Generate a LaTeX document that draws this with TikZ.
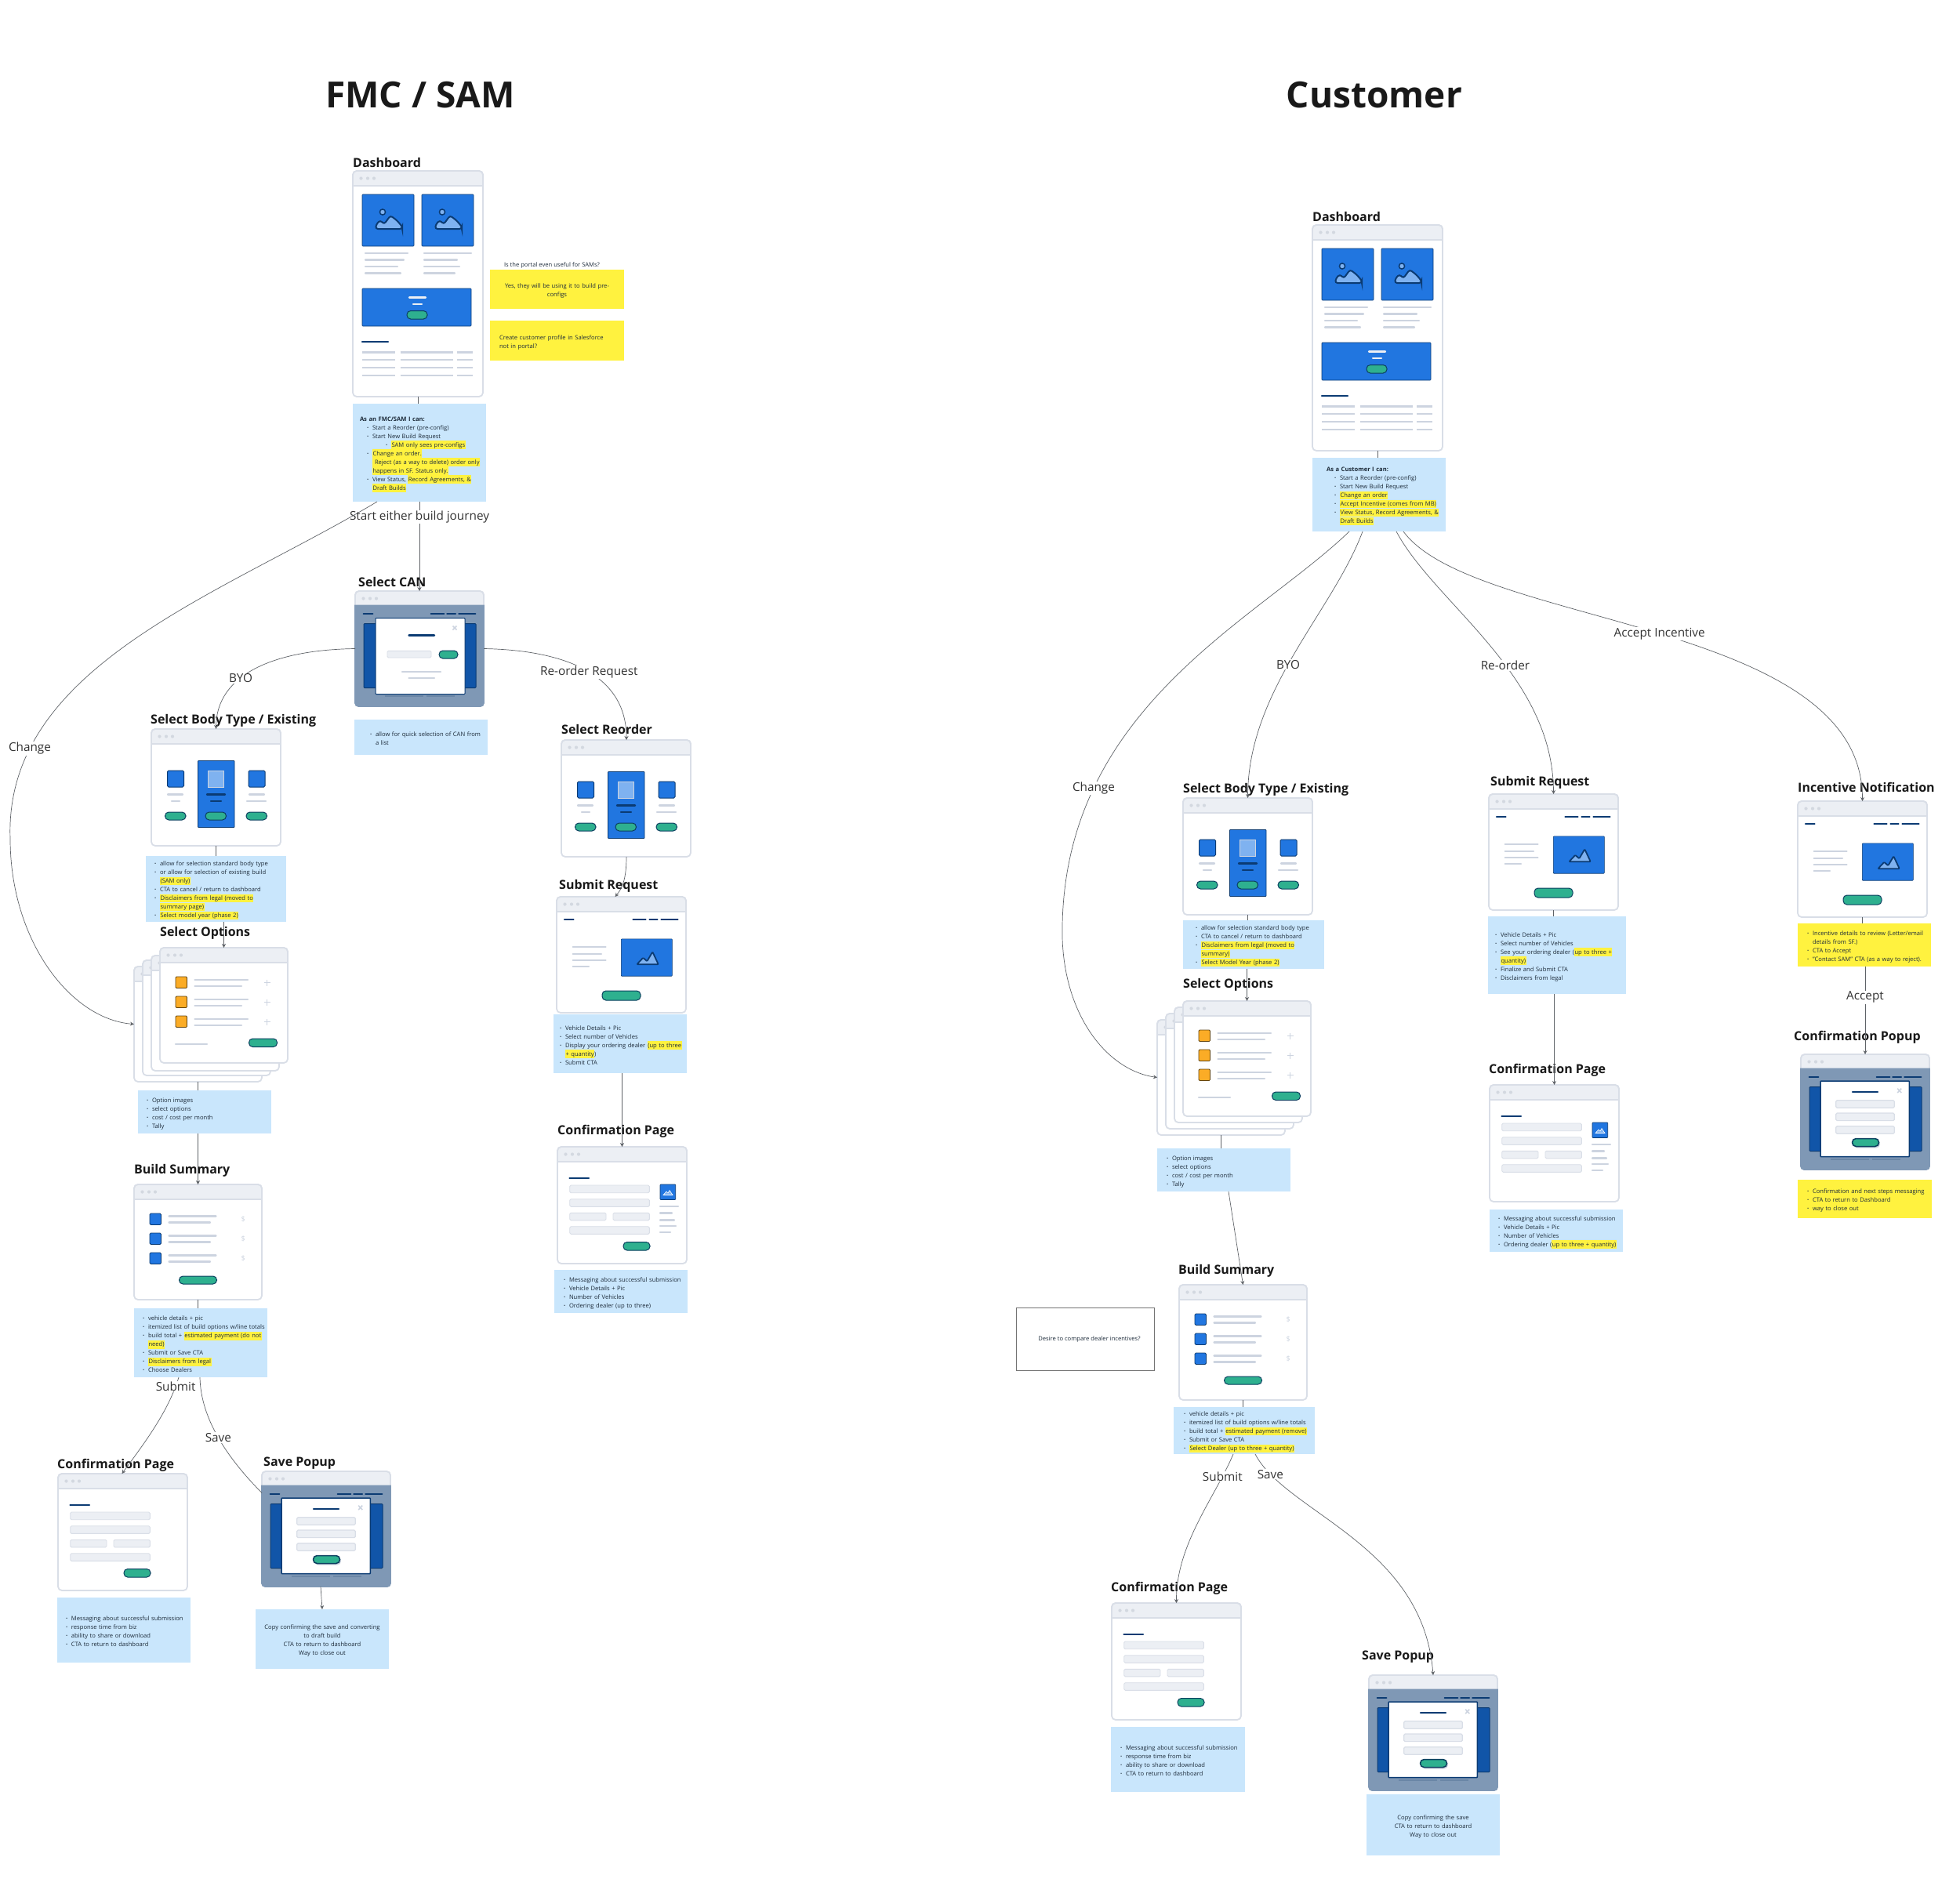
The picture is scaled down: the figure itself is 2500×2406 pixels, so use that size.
\documentclass[tikz,border=0pt]{standalone}
\usepackage{fontspec}
\setmainfont{Open Sans}
\usetikzlibrary{arrows.meta}

\definecolor{noteblue}{HTML}{C9E6FC}
\definecolor{stickyyellow}{HTML}{FFF23F}
\definecolor{hlyellow}{HTML}{FFF23F}
\definecolor{linkgray}{HTML}{5F6368}
\definecolor{framegray}{HTML}{D9DEE7}
\definecolor{barfill}{HTML}{ECEFF4}
\definecolor{dotgray}{HTML}{D3D8E0}
\definecolor{fillgray}{HTML}{CDD4E0}
\definecolor{navy}{HTML}{0B3B73}
\definecolor{imgblue}{HTML}{2176E0}
\definecolor{lightblue}{HTML}{7FB2F0}
\definecolor{ctagreen}{HTML}{2EB08F}
\definecolor{ctaedge}{HTML}{0B3F5F}
\definecolor{orangebox}{HTML}{FBAC26}
\definecolor{dimfill}{HTML}{7F98B5}
\definecolor{dimline}{HTML}{6A86A6}
\definecolor{sideblue}{HTML}{1155A8}
\definecolor{notetext}{HTML}{1D2B3A}

% bullets and highlights for the note texts
\newcommand{\bt}[1][7pt]{\hspace*{\dimexpr#1+3pt\relax}\makebox[7pt][l]{\textbf{·}}}
\newcommand{\ct}[1][14pt]{\hspace*{\dimexpr#1+3pt\relax}}
\newcommand{\hlt}[1]{{\setlength{\fboxsep}{0pt}\colorbox{hlyellow}{\rule[-2.6pt]{0pt}{10.6pt}\kern.5pt#1\kern.5pt}}}

\tikzset{
  x=1pt,y=-1pt,
  heading/.style={anchor=base west,inner sep=0,font=\fontsize{16}{20}\selectfont\bfseries,text=black!90},
  title/.style={inner sep=0,font=\fontsize{46}{56}\selectfont\bfseries,text=black!90},
  screenbox/.style 2 args={anchor=north west,inner sep=0,outer sep=0,minimum width=#1,minimum height=#2},
  notebox/.style 2 args={anchor=north west,fill=noteblue,inner xsep=1pt,inner ysep=0,outer sep=0,
    minimum width=#1,minimum height=#2,text width=#1-2pt,align=left,text=notetext,
    font=\fontsize{7.6}{11}\selectfont,execute at begin node={\leavevmode\rule{0pt}{10pt}}},
  sticky/.style={fill=stickyyellow},
  flowline/.style={draw=linkgray,line width=0.7pt},
  flowarrow/.style={flowline,-{Stealth[length=5pt,width=5pt]}},
  flowlabel/.style={fill=white,inner sep=1pt,text=black!80,font=\fontsize{15.3}{18}\selectfont},
  frameline/.style={draw=framegray,line width=1.8pt},
  gline/.style={draw=fillgray,line width=2.3pt,line cap=round},
  navyline/.style={draw=navy,line width=2.4pt,line cap=round},
  ctabtn/.style={draw=ctaedge,fill=ctagreen,line width=1pt,rounded corners=4.8},
  imgbox/.style={draw=navy,fill=imgblue,line width=0.6pt,rounded corners=0.8},
  fieldbox/.style={draw=framegray,fill=barfill,line width=0.9pt,rounded corners=1.5},
  % bare browser window
  pics/browser/.style 2 args={code={
    \draw[frameline,fill=white,rounded corners=5] (0,0) rectangle (#1,#2);
    \draw[frameline,fill=barfill,rounded corners=5] (0,19) -- (0,0) -- (#1,0) -- (#1,19);
    \draw[frameline] (0,19) -- (#1,19);
    \foreach \x in {10.5,19,27} \fill[dotgray] (\x,9.5) circle (2.1);
  }},
  % picture icon with sun
  pics/sunicon/.style={code={
    \draw[draw=navy,fill=lightblue,line width=1.5pt] (26,22.5) circle (3.6);
    \draw[draw=navy,fill=lightblue,line width=2pt,rounded corners=3]
      (17,44) -- (18,38) -- (23,33) -- (28,38) -- (36,27) -- (44,33) -- (51,41) -- (51,44) -- cycle;
  }},
  % picture icon without sun
  pics/peakicon/.style={code={
    \draw[draw=navy,fill=lightblue,line width=1.8pt,line join=round,rounded corners=1]
      (20,32.5) -- (28,24) -- (33,28.5) -- (40,16.5) -- (47.5,32.5) -- cycle;
  }},
  pics/dashscreen/.style={code={
    \pic at (0,0) {browser={166}{288}};
    \foreach \x in {12,88} {
      \draw[imgbox] (\x,30) rectangle ++(66,66);
      \pic at (\x,30) {sunicon};
    }
    % text under the pictures
    \foreach \y/\e in {105/70,113.5/65,122/57,130.5/61} \draw[gline] (16,\y) -- (\e,\y);
    \foreach \y/\e in {105/151,113.5/133,122/136,130.5/130} \draw[gline] (91,\y) -- (\e,\y);
    % banner
    \draw[imgbox] (12,150) rectangle (151,198);
    \draw[draw=barfill,line width=2.2pt,line cap=round] (72,161.5) -- (93,161.5);
    \draw[draw=barfill,line width=2.2pt,line cap=round] (77,170) -- (88,170);
    \draw[ctabtn] (69,178.5) rectangle (95,189);
    % table
    \draw[navyline] (12,218) -- (45,218);
    \foreach \y in {231.5,241,251,261} {
      \draw[gline,line cap=butt] (12,\y) -- (53.5,\y);
      \draw[gline,line cap=butt] (60.5,\y) -- (127.5,\y);
      \draw[gline,line cap=butt] (133,\y) -- (152.5,\y);
    }
  }},
  pics/pickscreen/.style={code={
    \pic at (0,0) {browser={165}{149}};
    \draw[imgbox,line width=0.9pt] (59.5,40.5) rectangle (106,125.5);
    \draw[draw=fillgray,fill=lightblue,line width=0.9pt] (72,53) rectangle (92.5,74);
    \draw[navyline] (71,83.5) -- (94,83.5);
    \draw[navyline] (76,92) -- (89,92);
    \draw[ctabtn] (69,106) rectangle (95.5,116);
    \foreach \x in {20.5,124} \draw[imgbox,line width=1pt,rounded corners=1.5] (\x,53) rectangle ++(21,21);
    \draw[gline] (21,83.5) -- (40,83.5);
    \draw[gline] (26,92) -- (36,92);
    \draw[gline] (125,83.5) -- (144,83.5);
    \draw[gline] (122,92) -- (146,92);
    \draw[ctabtn] (17.5,106) rectangle (44,116);
    \draw[ctabtn] (121,106) rectangle (147.5,116);
  }},
  pics/optionscreen/.style={code={
    \pic at (0,0) {browser={163}{147}};
    \foreach \y in {37,62,87} {
      \draw[draw=black!60!orangebox,fill=orangebox,line width=0.8pt,rounded corners=1.2] (20,\y) rectangle ++(14.5,14.5);
      \draw[gline] (44.5,\y+4) -- (112,\y+4);
      \draw[gline] (44.5,\y+12) -- (104,\y+12);
      \draw[draw=fillgray,line width=1.5pt] (133,\y+7.5) -- (140.5,\y+7.5) (136.7,\y+3.5) -- (136.7,\y+11.5);
    }
    \draw[gline] (20,123) -- (60,123);
    \draw[ctabtn] (113.5,116) rectangle (149.5,126.5);
  }},
  pics/summaryscreen/.style={code={
    \pic at (0,0) {browser={163}{147}};
    \foreach \y/\k in {37/a,62/b,87/c} {
      \draw[draw=navy,fill=imgblue,line width=0.8pt,rounded corners=1.5] (20,\y) rectangle ++(14.5,14.5);
      \draw[gline] (44.5,\y+3.5) -- (104.5,\y+3.5);
      \draw[gline] (44.5,\y+11.5) -- (97,\y+11.5);
      \node[inner sep=0,text=fillgray,font=\fontsize{9}{10}\selectfont] (dollar\k) at (139.3,\y+7) {\$};
    }
    \draw[ctabtn] (57.5,117) rectangle (105.5,127);
  }},
  pics/formscreen/.style={code={
    \pic at (0,0) {browser={165}{149}};
    \draw[navyline] (15.5,40) -- (40,40);
    \draw[fieldbox] (15.7,49) rectangle (117.3,58.7);
    \draw[fieldbox] (15.7,66.7) rectangle (117.3,76.3);
    \draw[fieldbox] (15.7,84.3) rectangle (62,93.8);
    \draw[fieldbox] (71,84.3) rectangle (117.3,93.8);
    \draw[fieldbox] (15.7,101.7) rectangle (117.3,111.3);
  }},
  % button of a form
  pics/formcta/.style={code={
    \draw[ctabtn] (84,121.5) rectangle (118,132);
  }},
  % small picture beside a form
  pics/sidebits/.style={code={
    \draw[imgbox] (131,48) rectangle (150.7,67.5);
    \draw[draw=white,fill=lightblue,line width=0.6pt] (135,61.5) -- (139,57) -- (141,59) -- (143,55.5) -- (147,61.5) -- cycle;
    \foreach \y/\e in {76/154,84.5/146,93.5/149,101/151,109/144} \draw[gline] (131,\y) -- (\e,\y);
  }},
  pics/requestscreen/.style={code={
    \pic at (0,0) {browser={165}{148}};
    \draw[navyline] (10,29) -- (21.5,29);
    \draw[navyline] (97.5,29) -- (113.5,29);
    \draw[navyline] (118.5,29) -- (128.5,29);
    \draw[navyline] (133.5,29) -- (154.5,29);
    \foreach \y/\e in {64/62.5,72.7/57,81/62.5,89.3/41} \draw[gline] (20.7,\y) -- (\e,\y);
    \draw[imgbox] (82.3,53.8) rectangle (147.3,101.2);
    \pic at (82.3,53.8) {peakicon};
    \draw[ctabtn] (58,120) rectangle (107,132);
  }},
  % dimmed page behind a popup
  pics/dimbase/.style={code={
    \pic at (0,0) {browser={164}{147}};
    \fill[dimfill] (-0.9,17.5) [rounded corners=5] -- (-0.9,147.9) -- (164.9,147.9) [sharp corners] -- (164.9,17.5) -- cycle;
    \draw[navyline] (10.7,29) -- (22.3,29);
    \draw[navyline] (96.7,29) -- (113.3,29);
    \draw[navyline] (117.3,29) -- (128,29);
    \draw[navyline] (132.3,29) -- (153.3,29);
    \draw[draw=navy,fill=sideblue,line width=1pt,rounded corners=1] (11,41.5) rectangle (154,123.5);
    \draw[draw=dimline,line width=2pt] (37.7,134) -- (86.7,134);
    \draw[draw=dimline,line width=2pt] (91.3,134) -- (126.7,134);
  }},
  % popup with three fields
  pics/popupscreen/.style={code={
    \pic at (0,0) {dimbase};
    \draw[draw=navy,fill=white,line width=1.5pt,rounded corners=0.8] (25,34) rectangle (138.3,130.7);
    \draw[navyline] (66,48) -- (98,48);
    \draw[draw=fillgray,line width=1.6pt] (123.2,43.6) -- (128.2,49) (128.2,43.6) -- (123.2,49);
    \foreach \y in {58.7,75,91.7} \draw[fieldbox,line width=1.2pt] (44.7,\y) rectangle (119.3,\y+9.6);
    \fill[fillgray,rounded corners=4.8] (67,109.5) rectangle (101,119.5);
    \draw[ctabtn,line width=1.5pt] (65.5,107.5) rectangle (99.5,117.5);
  }},
  % popup with one field
  pics/canscreen/.style={code={
    \pic at (0,0) {dimbase};
    \draw[draw=navy,fill=white,line width=1pt,rounded corners=0.8] (26,34.5) rectangle (140,131.5);
    \draw[navyline] (68.5,56.3) -- (101,56.3);
    \draw[draw=fillgray,line width=1.6pt] (124.5,44.5) -- (129.5,49.5) (129.5,44.5) -- (124.5,49.5);
    \draw[fieldbox] (41,76.3) rectangle (97,85);
    \draw[ctabtn] (107,76) rectangle (131,86);
    \draw[gline] (60,103) -- (109,103);
    \draw[gline] (68.5,111.3) -- (101,111.3);
  }},
}

\begin{document}
\begin{tikzpicture}
\useasboundingbox (0,0) rectangle (2500,2406);

% Titles
\node[title] (titleA) at (536,121) {FMC / SAM};
\node[title] (titleB) at (1753,121) {Customer};

%%%%% FMC / SAM %%%%%

% Dashboard
\node[heading] (dashHeadA) at (450,213) {Dashboard};
\node[screenbox={166}{288}] (dashA) at (450,218) {};
\pic at (dashA.north west) {dashscreen};
\node[notebox={170}{125}] (dashNoteA) at (450,515) {\hspace*{8pt}\textbf{As an FMC/SAM I can:}\\
  \bt[14pt]Start a Reorder (pre-config)\\
  \bt[14pt]Start New Build Request\\
  \bt[38pt]\hlt{SAM only sees pre-configs}\\
  \bt[14pt]\hlt{Change an order.}\\
  \ct[21pt]\hlt{\ Reject (as a way to delete) order only}\\
  \ct[21pt]\hlt{happens in SF. Status only.}\\
  \bt[14pt]View Status, \hlt{Record Agreements, \&}\\
  \ct[21pt]\hlt{Draft Builds}};

% Questions next to the dashboard
\node[inner sep=0,text=notetext,font=\fontsize{7.6}{11}\selectfont] (askA) at (704,339) {Is the portal even useful for SAMs?};
\node[notebox={171}{50},sticky,align=center] (yesA) at (625,344) {Yes, they will be using it to build pre-\\configs};
\node[notebox={171}{51},sticky] (sfA) at (625,409) {\hspace*{11pt}Create customer profile in Salesforce\\\hspace*{11pt}not in portal?};

% Select CAN
\node[heading] (canHeadA) at (457,748) {Select CAN};
\node[screenbox={164}{147}] (canA) at (453,754) {};
\pic at (canA.north west) {canscreen};
\node[notebox={170}{45}] (canNoteA) at (452,918) {\bt[16pt]allow for quick selection of CAN from\\\ct[23pt]a list};

% Select Body Type
\node[heading] (bodyHeadA) at (192,923) {Select Body Type / Existing};
\node[screenbox={165}{149}] (bodyA) at (193,930) {};
\pic at (bodyA.north west) {pickscreen};
\node[notebox={179}{84}] (bodyNoteA) at (186,1092) {\bt allow for selection standard body type\\
  \bt or allow for selection of existing build\\
  \ct\hlt{(SAM only)}\\
  \bt CTA to cancel / return to dashboard\\
  \bt\hlt{Disclaimers from legal (moved to}\\
  \ct\hlt{summary page)}\\
  \bt\hlt{Select model year (phase 2)}};

% Select Options
\node[heading] (optHeadA) at (204,1194) {Select Options};
\foreach \n/\x/\y in {D/171/1233,C/182/1225,B/193/1219} {
  \node[screenbox={163}{147}] (opt\n A) at (\x,\y) {};
  \pic at (opt\n A.north west) {browser={163}{147}};
}
\node[screenbox={163}{147}] (optA) at (204,1209) {};
\pic at (optA.north west) {optionscreen};
\node[notebox={170}{55}] (optNoteA) at (176,1391) {\bt Option images\\
  \bt select options\\
  \bt cost / cost per month\\
  \bt Tally};

% Build Summary
\node[heading] (sumHeadA) at (171,1497) {Build Summary};
\node[screenbox={163}{147}] (sumA) at (171,1511) {};
\pic at (sumA.north west) {summaryscreen};
\node[notebox={170}{88}] (sumNoteA) at (171,1669) {\bt vehicle details + pic\\
  \bt itemized list of build options w/line totals\\
  \bt build total + \hlt{estimated payment (do not}\\
  \ct\hlt{need)}\\
  \bt Submit or Save CTA\\
  \bt\hlt{Disclaimers from legal}\\
  \bt Choose Dealers};

% Confirmation Page
\node[heading] (confHeadA) at (73,1873) {Confirmation Page};
\node[screenbox={165}{149}] (confA) at (74,1880) {};
\pic at (confA.north west) {formscreen};
\pic at (confA.north west) {formcta};
\node[notebox={170}{83}] (confNoteA) at (73,2038) {\bt Messaging about successful submission\\
  \bt response time from biz\\
  \bt ability to share or download\\
  \bt CTA to return to dashboard};

% Save Popup
\node[heading] (saveHeadA) at (336,1870) {Save Popup};
\node[screenbox={164}{147}] (saveA) at (334,1877) {};
\pic at (saveA.north west) {popupscreen};
\node[notebox={170}{76},align=center] (saveNoteA) at (326,2053) {Copy confirming the save and converting\\to draft build\\CTA to return to dashboard\\Way to close out};

% Select Reorder
\node[heading] (reordHeadA) at (716,936) {Select Reorder};
\node[screenbox={166}{149}] (reordA) at (716,944) {};
\pic at (reordA.north west) {pickscreen};

% Submit Request
\node[heading] (subHeadA) at (713,1134) {Submit Request};
\node[screenbox={165}{148}] (subA) at (710,1144) {};
\pic at (subA.north west) {requestscreen};
\node[notebox={170}{75}] (subNoteA) at (706,1294) {\bt[4pt]Vehicle Details + Pic\\
  \bt[4pt]Select number of Vehicles\\
  \bt[4pt]Display your ordering dealer \hlt{(up to three}\\
  \ct[11pt]\hlt{+ quantity})\\
  \bt[4pt]Submit CTA};

% Confirmation Page
\node[heading] (formHeadA) at (711,1447) {Confirmation Page};
\node[screenbox={165}{149}] (formA) at (711,1463) {};
\pic at (formA.north west) {formscreen};
\pic at (formA.north west) {formcta};
\pic at (formA.north west) {sidebits};
\node[notebox={170}{55}] (formNoteA) at (707,1620) {\bt[8pt]Messaging about successful submission\\
  \bt[8pt]Vehicle Details + Pic\\
  \bt[8pt]Number of Vehicles\\
  \bt[8pt]Ordering dealer (up to three)};

% Links
\draw[flowline] (dashA.south) -- (dashA.south |- dashNoteA.north);
\draw[flowarrow] (dashNoteA.south -| canA.north) -- node[flowlabel,pos=.17] (startA) {Start either build journey} (canA.north);
\draw[flowarrow] ([xshift=-54pt]dashNoteA.south) .. controls (280,760) and (5,850) .. node[flowlabel,pos=.805] (changeA) {Change} (13,1070)
  .. controls (13,1200) and (90,1300) .. (optDA.west);
\draw[flowarrow] (canA.west) .. controls (350,829) and (276,860) .. node[flowlabel,pos=.61] (byoA) {BYO} (bodyA.north);
\draw[flowarrow] (canA.east) .. controls (700,829) and (799,850) .. node[flowlabel,pos=.56] (reordLinkA) {Re-order Request} (reordA.north);
\draw[flowline] (bodyA.south) -- (bodyA.south |- bodyNoteA.north);
\draw[flowarrow] (bodyNoteA.south -| optA.north) -- (optA.north);
\draw[flowline] (optDA.south) -- (optDA.south |- optNoteA.north);
\draw[flowarrow] (optNoteA.south -| sumA.north) -- (sumA.north);
\draw[flowline] (sumA.south) -- (sumA.south |- sumNoteA.north);
\draw[flowarrow] ([xshift=-28pt]sumNoteA.south) .. controls (215,1800) and (185,1840) .. node[flowlabel,pos=.09] (submitA) {Submit} ([xshift=-1pt]confA.north);
\draw[flowline] ([xshift=-1pt]sumNoteA.south) .. controls (256,1810) and (290,1860) .. node[flowlabel,pos=.5] (saveLinkA) {Save} ([yshift=46pt]saveA.west);
\draw[flowarrow] ([xshift=-7pt]saveA.south) -- (saveNoteA.north);
\draw[flowarrow] (reordA.south) .. controls (799,1125) and (792,1135) .. ([xshift=-8pt]subA.north);
\draw[flowarrow] (subNoteA.south -| formA.north) -- (formA.north);

%%%%% Customer %%%%%

% Dashboard
\node[heading] (dashHeadB) at (1674,282) {Dashboard};
\node[screenbox={166}{288}] (dashB) at (1674,287) {};
\pic at (dashB.north west) {dashscreen};
\node[notebox={170}{94}] (dashNoteB) at (1674,584) {\hspace*{17pt}\textbf{As a Customer I can:}\\
  \bt[24pt]Start a Reorder (pre-config)\\
  \bt[24pt]Start New Build Request\\
  \bt[24pt]\hlt{Change an order}\\
  \bt[24pt]\hlt{Accept Incentive (comes from MB)}\\
  \bt[24pt]\hlt{View Status, Record Agreements, \&}\\
  \ct[31pt]\hlt{Draft Builds}};

% Select Body Type
\node[heading] (bodyHeadB) at (1509,1011) {Select Body Type / Existing};
\node[screenbox={165}{149}] (bodyB) at (1509,1018) {};
\pic at (bodyB.north west) {pickscreen};
\node[notebox={180}{62}] (bodyNoteB) at (1509,1174) {\bt[12pt]allow for selection standard body type\\
  \bt[12pt]CTA to cancel / return to dashboard\\
  \bt[12pt]\hlt{Disclaimers from legal (moved to}\\
  \ct[19pt]\hlt{summary)}\\
  \bt[12pt]\hlt{Select Model Year (phase 2)}};

% Select Options
\node[heading] (optHeadB) at (1509,1260) {Select Options};
\foreach \n/\x/\y in {D/1476/1301,C/1487/1293,B/1498/1285} {
  \node[screenbox={163}{147}] (opt\n B) at (\x,\y) {};
  \pic at (opt\n B.north west) {browser={163}{147}};
}
\node[screenbox={163}{147}] (optB) at (1509,1277) {};
\pic at (optB.north west) {optionscreen};
\node[notebox={170}{55}] (optNoteB) at (1476,1465) {\bt[8pt]Option images\\
  \bt[8pt]select options\\
  \bt[8pt]cost / cost per month\\
  \bt[8pt]Tally};

% Build Summary
\node[heading] (sumHeadB) at (1503,1625) {Build Summary};
\node[screenbox={163}{147}] (sumB) at (1504,1639) {};
\pic at (sumB.north west) {summaryscreen};
\node[notebox={180}{60}] (sumNoteB) at (1497,1795) {\bt[9pt]vehicle details + pic\\
  \bt[9pt]itemized list of build options w/line totals\\
  \bt[9pt]build total + \hlt{estimated payment (remove)}\\
  \bt[9pt]Submit or Save CTA\\
  \bt[9pt]\hlt{Select Dealer (up to three + quantity)}};

% Open question
\node[draw=black!55,line width=0.8pt,inner sep=0,minimum width=176,minimum height=80,anchor=north west,text=notetext,font=\fontsize{7.6}{11}\selectfont] (dealerB) at (1296,1668) {\hspace*{10pt}Desire to compare dealer incentives?};

% Confirmation Page
\node[heading] (confHeadB) at (1417,2030) {Confirmation Page};
\node[screenbox={165}{149}] (confB) at (1418,2045) {};
\pic at (confB.north west) {formscreen};
\pic at (confB.north west) {formcta};
\node[notebox={171}{83}] (confNoteB) at (1417,2203) {\bt[8pt]Messaging about successful submission\\
  \bt[8pt]response time from biz\\
  \bt[8pt]ability to share or download\\
  \bt[8pt]CTA to return to dashboard};

% Save Popup
\node[heading] (saveHeadB) at (1737,2117) {Save Popup};
\node[screenbox={164}{147}] (saveB) at (1746,2137) {};
\pic at (saveB.north west) {popupscreen};
\node[notebox={170}{78},align=center] (saveNoteB) at (1743,2289) {Copy confirming the save\\CTA to return to dashboard\\Way to close out};

% Submit Request
\node[heading] (subHeadB) at (1901,1002) {Submit Request};
\node[screenbox={165}{148}] (subB) at (1899,1013) {};
\pic at (subB.north west) {requestscreen};
\node[notebox={176}{99}] (subNoteB) at (1898,1169) {\bt[5pt]Vehicle Details + Pic\\
  \bt[5pt]Select number of Vehicles\\
  \bt[5pt]See your ordering dealer (\hlt{up to three +}\\
  \ct[12pt]\hlt{quantity)}\\
  \bt[5pt]Finalize and Submit CTA\\
  \bt[5pt]Disclaimers from legal};

% Confirmation Page
\node[heading] (formHeadB) at (1899,1369) {Confirmation Page};
\node[screenbox={165}{149}] (formB) at (1900,1384) {};
\pic at (formB.north west) {formscreen};
\pic at (formB.north west) {sidebits};
\node[notebox={170}{54}] (formNoteB) at (1900,1543) {\bt Messaging about successful submission\\
  \bt Vehicle Details + Pic\\
  \bt Number of Vehicles\\
  \bt Ordering dealer (\hlt{up to three + quantity)}};

% Incentive Notification
\node[heading] (incHeadB) at (2293,1010) {Incentive Notification};
\node[screenbox={165}{148}] (incB) at (2293,1022) {};
\pic at (incB.north west) {requestscreen};
\node[notebox={170}{55},sticky] (incNoteB) at (2293,1178) {\bt[8pt]Incentive details to review (Letter/email\\
  \ct[15pt]details from SF.)\\
  \bt[8pt]CTA to Accept\\
  \bt[8pt]"Contact SAM" CTA (as a way to reject).};

% Confirmation Popup
\node[heading] (popHeadB) at (2288,1327) {Confirmation Popup};
\node[screenbox={164}{147}] (popB) at (2297,1345) {};
\pic at (popB.north west) {popupscreen};
\node[notebox={171}{49},sticky] (popNoteB) at (2293,1505) {\bt[8pt]Confirmation and next steps messaging\\
  \bt[8pt]CTA to return to Dashboard\\
  \bt[8pt]way to close out};

% Links
\draw[flowline] (dashB.south) -- (dashB.south |- dashNoteB.north);
\draw[flowarrow] ([xshift=-38pt]dashNoteB.south) .. controls (1605,790) and (1360,900) .. node[flowlabel,pos=.76] (changeB) {Change} (1355,1180)
  .. controls (1352,1290) and (1410,1365) .. (optDB.west);
\draw[flowarrow] ([xshift=-21pt]dashNoteB.south) .. controls (1700,780) and (1592,880) .. node[flowlabel,pos=.54] (byoB) {BYO} (bodyB.north);
\draw[flowarrow] ([xshift=22pt]dashNoteB.south) .. controls (1830,770) and (1981,860) .. node[flowlabel,pos=.58] (reordLinkB) {Re-order} (subB.north);
\draw[flowarrow] ([xshift=31pt]dashNoteB.south) .. controls (1880,800) and (2376,790) .. node[flowlabel,pos=.5] (acceptLinkB) {Accept Incentive} (incB.north);
\draw[flowline] (bodyB.south) -- (bodyB.south |- bodyNoteB.north);
\draw[flowarrow] (bodyNoteB.south -| optB.north) -- (optB.north);
\draw[flowline] (optDB.south) -- (optDB.south |- optNoteB.north);
\draw[flowarrow] ([xshift=6pt]optNoteB.south) -- (sumB.north);
\draw[flowline] (sumB.south) -- (sumB.south |- sumNoteB.north);
\draw[flowarrow] ([xshift=-14pt]sumNoteB.south) .. controls (1550,1910) and (1500,1970) .. node[flowlabel,pos=.17] (submitB) {Submit} (confB.north);
\draw[flowarrow] ([xshift=14pt]sumNoteB.south) .. controls (1640,1930) and (1815,1970) .. node[flowlabel,pos=.12] (saveLinkB) {Save} (saveB.north);
\draw[flowline] (subB.south) -- (subB.south |- subNoteB.north);
\draw[flowarrow] (subNoteB.south -| formB.north) -- (formB.north);
\draw[flowline] (incB.south) -- (incB.south |- incNoteB.north);
\draw[flowarrow] (incNoteB.south -| popB.north) -- node[flowlabel,pos=.35] (acceptB) {Accept} (popB.north);

\end{tikzpicture}
\end{document}
